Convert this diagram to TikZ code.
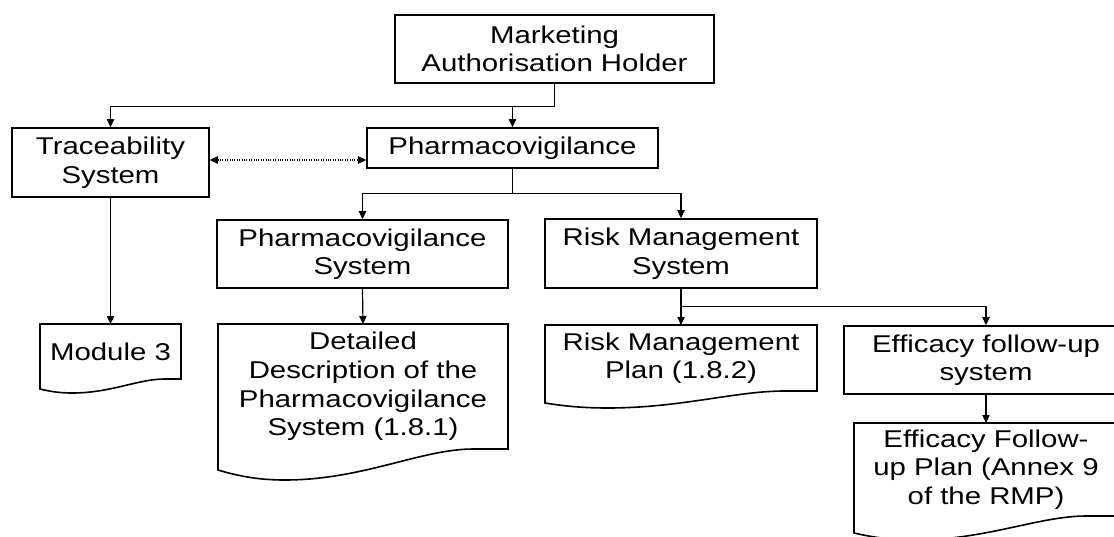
\documentclass[tikz,border=0pt]{standalone}
\usepackage{fontspec}
\setmainfont{Liberation Sans}[FakeStretch=1.21]
\usetikzlibrary{arrows.meta,calc}
\newcommand{\docpath}[3]{%
  \draw[outline] (#1.south east) -- (#1.north east) -- (#1.north west) -- ($(#1.south west)+(0,#2)$)
  .. controls ($(#1.south west)!0.08!(#1.south east)+(0,{#2+0.7*(#3-#2)})$) and ($(#1.south west)!0.15!(#1.south east)+(0,#3)$) .. ($(#1.south west)!0.23!(#1.south east)+(0,#3)$)
  .. controls ($(#1.south west)!0.5!(#1.south east)+(0,#3)$) and ($(#1.south west)!0.7!(#1.south east)$) .. ($(#1.south west)!0.88!(#1.south east)$)
  -- cycle;}
\begin{document}
\begin{tikzpicture}[x=0.75pt,y=-0.75pt,
  txt/.style={inner sep=0pt, align=center, font=\fontsize{18.2}{21.4}\selectfont},
  box/.style={txt, draw, line width=1.2pt},
  doc/.style={txt, outer sep=0pt},
  outline/.style={line width=1.2pt, line join=miter},
  conn/.style={line width=0.9pt, -{Triangle[length=6pt,width=5.5pt]}},
  dotconn/.style={line width=0.8pt, densely dotted, {Triangle[length=6pt,width=5.5pt]}-{Triangle[length=6pt,width=5.5pt]}}]
\useasboundingbox (0,0) rectangle (1114,536);
\clip (0,0) rectangle (1114,536);

\node[box, minimum width=319*0.75pt, minimum height=68*0.75pt] (mah) at (554.5,49) {Marketing\\Authorisation Holder};
\node[box, minimum width=197*0.75pt, minimum height=69*0.75pt] (trace) at (110.5,162.5) {Traceability\\System};
\node[box, minimum width=291*0.75pt, minimum height=40*0.75pt] (pv) at (512.5,148) {Pharmacovigilance};
\node[box, minimum width=291*0.75pt, minimum height=68*0.75pt] (pvs) at (362.5,254) {Pharmacovigilance\\System};
\node[box, minimum width=272*0.75pt, minimum height=69*0.75pt] (rms) at (681,253.5) {Risk Management\\System};
\node[box, minimum width=284*0.75pt, minimum height=68*0.75pt] (eff) at (986,360) {Efficacy follow-up\\system};

\node[doc, minimum width=141*0.75pt, minimum height=55*0.75pt] (mod3) at (110.5,351.5) {Module 3};
\node[doc, minimum width=290*0.75pt, minimum height=125*0.75pt] (det) at (363,386.5) {Detailed\\Description of the\\Pharmacovigilance\\System (1.8.1)};
\node[doc, minimum width=272*0.75pt, minimum height=66*0.75pt] (rmp) at (681,358) {Risk Management\\Plan (1.8.2)};
\node[doc, minimum width=264*0.75pt, minimum height=93*0.75pt] (efp) at (986,469.5) {Efficacy Follow-\\up Plan (Annex 9\\of the RMP)};

\docpath{mod3}{10}{14}
\docpath{det}{21}{31}
\docpath{rmp}{12}{17}
\docpath{efp}{17}{24}

\draw[conn] (mah.south) -- ++(0,23) -| (trace.north);
\draw[conn] (mah.south) -- ++(0,23) -| (pv.north);
\coordinate (dl) at (0,160);
\draw[dotconn] (trace.east |- dl) -- (pv.west |- dl);
\draw[conn] (pv.south) -- ++(0,25) -| (pvs.north);
\draw[conn] (pv.south) -- ++(0,25) -| (rms.north);
\draw[conn] (trace.south) -- (mod3.north);
\draw[conn] (pvs.south) -- (det.north);
\draw[conn] (rms.south) -- (rmp.north);
\draw[conn] (rms.south) -- ++(0,18) -| (eff.north);
\draw[conn] (eff.south) -- (efp.north);
\end{tikzpicture}
\end{document}
